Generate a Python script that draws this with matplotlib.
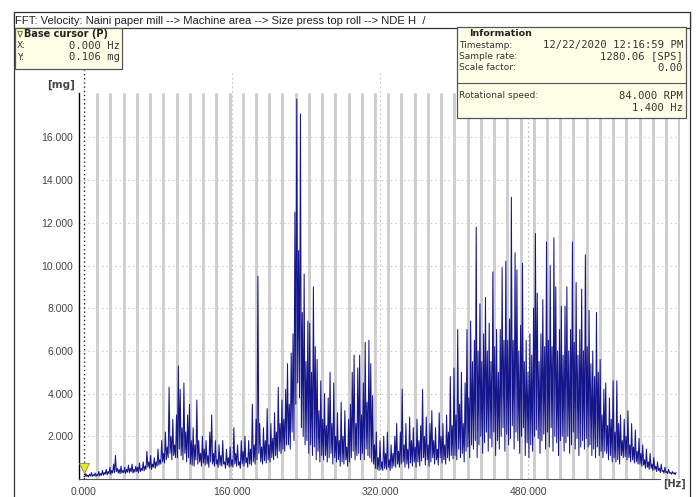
import numpy as np
import matplotlib
matplotlib.use("Agg")
import matplotlib.pyplot as plt
from matplotlib.patches import Rectangle
from matplotlib.lines import Line2D

# spectrum: upper values every 2 Hz (0 .. 640 Hz)
freq_step_hz = 2.0
amp_mg = [
    0.11, 0.25, 0.18, 0.22, 0.30, 0.20, 0.28, 0.22, 0.35, 0.25,
    0.40, 0.30, 0.45, 0.35, 0.55, 0.40, 0.70, 1.10, 0.50, 0.45,
    0.60, 0.40, 0.55, 0.45, 0.65, 0.50, 0.70, 0.45, 0.60, 0.55,
    0.75, 0.50, 0.80, 0.60, 1.30, 0.80, 1.10, 0.70, 1.00, 0.80,
    1.40, 0.90, 1.80, 1.20, 2.20, 1.50, 4.30, 2.00, 2.80, 1.60,
    3.00, 5.30, 4.20, 2.40, 4.50, 2.20, 3.00, 3.50, 1.80, 2.40,
    1.60, 3.70, 1.80, 1.20, 2.00, 1.40, 1.80, 1.10, 2.20, 3.00,
    1.20, 1.80, 0.90, 1.60, 1.10, 1.80, 0.80, 1.40, 1.00, 1.50,
    0.90, 2.40, 1.20, 1.60, 0.80, 1.80, 1.30, 2.00, 1.00, 1.80,
    1.40, 3.50, 1.60, 2.80, 9.50, 2.60, 1.50, 2.40, 1.80, 3.30,
    1.60, 2.60, 1.90, 3.10, 2.20, 4.30, 2.60, 3.70, 2.80, 4.20,
    5.40, 3.50, 5.90, 6.80, 12.50, 17.80, 10.70, 17.10, 7.80, 9.60,
    5.50, 7.40, 7.30, 5.00, 9.00, 6.20, 5.60, 3.20, 4.60, 2.80,
    4.00, 2.50, 3.80, 5.00, 2.60, 4.50, 2.00, 3.10, 1.80, 3.60,
    2.00, 3.20, 1.50, 2.80, 3.50, 5.00, 5.80, 2.60, 5.20, 5.80,
    3.00, 4.50, 6.40, 3.60, 6.50, 5.40, 3.90, 1.60, 2.20, 1.00,
    1.80, 0.80, 2.00, 1.20, 2.20, 0.90, 1.60, 1.20, 2.00, 2.60,
    1.30, 2.20, 4.20, 1.60, 2.60, 1.40, 2.90, 1.80, 2.40, 1.50,
    2.80, 1.80, 2.50, 4.20, 2.00, 2.90, 1.60, 2.60, 3.20, 1.80,
    2.40, 1.40, 3.10, 2.00, 2.60, 1.60, 3.00, 2.20, 4.80, 2.50,
    5.20, 3.00, 7.00, 3.50, 5.00, 2.60, 4.50, 7.00, 3.80, 7.40,
    5.50, 6.50, 11.80, 6.00, 8.20, 5.50, 6.80, 8.50, 6.00, 7.30,
    5.50, 9.70, 6.20, 7.00, 5.00, 7.00, 9.90, 6.50, 10.20, 6.50,
    7.50, 13.20, 6.50, 10.60, 9.80, 6.00, 7.20, 10.10, 5.50, 6.50,
    5.00, 6.80, 5.80, 8.00, 11.50, 8.70, 5.50, 6.80, 8.40, 6.20,
    11.10, 6.50, 10.00, 6.20, 11.30, 9.00, 6.00, 7.00, 8.10, 5.80,
    8.10, 9.00, 6.00, 7.00, 11.10, 6.40, 9.20, 5.80, 7.00, 8.90,
    6.00, 10.50, 6.20, 7.90, 5.40, 6.00, 4.80, 7.80, 5.00, 5.60,
    3.00, 4.20, 4.50, 2.50, 3.80, 2.80, 4.60, 2.20, 4.60, 2.60,
    3.00, 1.80, 2.80, 2.00, 3.20, 1.60, 2.60, 1.50, 2.30, 1.30,
    1.90, 1.20, 1.60, 0.90, 1.40, 0.80, 1.20, 0.70, 1.00, 0.60,
    0.80, 0.50, 0.70, 0.40, 0.55, 0.35, 0.45, 0.30, 0.35, 0.30,
    0.30,
]
# lower edge of the dense band, read at the odd Hz values (1 .. 639 Hz)
trough_mg = [
    0.10, 0.12, 0.10, 0.14, 0.12, 0.15, 0.12, 0.16, 0.14, 0.18,
    0.18, 0.22, 0.20, 0.25, 0.22, 0.28, 0.30, 0.35, 0.28, 0.25,
    0.28, 0.30, 0.26, 0.32, 0.30, 0.34, 0.28, 0.32, 0.35, 0.30,
    0.35, 0.40, 0.38, 0.45, 0.55, 0.50, 0.45, 0.55, 0.50, 0.60,
    0.65, 0.70, 0.80, 0.75, 0.90, 1.00, 1.20, 0.90, 1.10, 1.00,
    1.00, 1.40, 1.10, 0.90, 1.20, 0.80, 1.00, 0.70, 0.65, 0.60,
    0.90, 0.70, 0.80, 0.60, 0.75, 0.65, 0.70, 0.55, 0.80, 0.70,
    0.60, 0.70, 0.55, 0.65, 0.60, 0.70, 0.50, 0.65, 0.55, 0.60,
    0.55, 0.70, 0.60, 0.65, 0.50, 0.70, 0.60, 0.75, 0.55, 0.70,
    0.65, 0.80, 0.70, 0.90, 1.20, 0.80, 0.70, 0.85, 0.75, 0.90,
    0.80, 1.00, 0.90, 1.10, 1.00, 1.30, 1.20, 1.40, 1.30, 1.60,
    1.60, 1.40, 2.20, 1.80, 3.50, 4.50, 3.80, 2.40, 2.00, 1.60,
    1.80, 1.20, 1.60, 1.10, 1.50, 0.90, 1.30, 0.80, 1.10, 0.90,
    1.10, 0.80, 1.00, 1.20, 0.70, 1.00, 0.80, 0.90, 0.60, 0.80,
    0.70, 0.90, 0.60, 0.80, 1.00, 1.30, 0.90, 1.10, 1.20, 0.90,
    1.20, 0.90, 1.40, 1.10, 1.00, 0.80, 0.70, 0.50, 0.45, 0.40,
    0.45, 0.40, 0.50, 0.45, 0.55, 0.40, 0.50, 0.60, 0.55, 0.70,
    0.55, 0.70, 0.80, 0.55, 0.70, 0.50, 0.75, 0.60, 0.80, 0.55,
    0.80, 0.60, 0.85, 1.00, 0.65, 0.90, 0.60, 0.80, 1.00, 0.70,
    0.90, 0.65, 1.00, 0.75, 0.90, 0.70, 1.00, 0.85, 1.10, 0.95,
    1.10, 0.90, 1.40, 1.00, 1.20, 0.80, 1.30, 1.50, 1.00, 1.60,
    1.40, 1.80, 1.00, 1.60, 2.00, 1.20, 1.70, 2.20, 1.30, 1.90,
    1.50, 2.20, 1.10, 1.80, 1.40, 2.00, 2.40, 1.30, 2.10, 1.60,
    1.90, 2.50, 1.40, 2.20, 1.80, 1.20, 2.00, 2.40, 1.10, 1.70,
    1.00, 1.60, 1.30, 2.00, 2.30, 1.90, 1.20, 1.80, 2.10, 1.40,
    2.20, 1.50, 2.40, 1.30, 2.00, 1.70, 1.10, 1.80, 2.00, 1.30,
    1.70, 2.00, 1.20, 1.60, 2.20, 1.40, 1.90, 1.10, 1.50, 1.80,
    1.40, 1.90, 1.50, 1.60, 1.10, 1.40, 1.00, 1.50, 1.10, 1.30,
    1.00, 1.30, 1.20, 0.90, 1.10, 0.80, 1.00, 0.80, 0.90, 0.70,
    1.10, 1.00, 1.05, 0.90, 1.00, 0.80, 0.90, 0.75, 0.80, 0.70,
    0.70, 0.60, 0.65, 0.50, 0.55, 0.45, 0.50, 0.40, 0.45, 0.35,
    0.40, 0.30, 0.35, 0.28, 0.30, 0.25, 0.28, 0.22, 0.25, 0.20,
]

# harmonic cursor stripes
harmonic_hz = 14.3
n_harmonics = 45

x_ticks = [0, 160, 320, 480]
x_tick_labels = ["0.000", "160.000", "320.000", "480.000"]
y_ticks = [2, 4, 6, 8, 10, 12, 14, 16]
y_tick_labels = ["2.000", "4.000", "6.000", "8.000", "10.000", "12.000", "14.000", "16.000"]

title = "FFT: Velocity: Naini paper mill --> Machine area --> Size press top roll --> NDE H  /"
cursor_rows = [("X:", "0.000 Hz"), ("Y:", "0.106 mg")]
info_rows = [("Timestamp:", "12/22/2020 12:16:59 PM"),
             ("Sample rate:", "1280.06 [SPS]"),
             ("Scale factor:", "0.00")]
speed_rows = [("Rotational speed:", "84.000 RPM"), ("", "1.400 Hz")]

# interleave the upper values (even Hz) and the lower edge (odd Hz)
f_even = np.arange(len(amp_mg)) * freq_step_hz
f_odd = np.arange(len(trough_mg)) * freq_step_hz + freq_step_hz / 2
freq_hz = np.concatenate([np.column_stack([f_even[:-1], f_odd]).ravel(), f_even[-1:]])
spec_mg = np.concatenate([np.column_stack([amp_mg[:-1], trough_mg]).ravel(), amp_mg[-1:]])

W, H = 696, 497
fig = plt.figure(figsize=(W / 100, H / 100), dpi=100)


def px(x, y):
    return x / W, 1 - y / H


# axes: 0 Hz at x=84px, 0.925 px/Hz ; 0 mg at y=479px, 21.35 px/mg
ax = fig.add_axes([79 / W, (H - 479) / H, (680 - 79) / W, (479 - 70) / H])
ax.set_xlim(-5.4, 644.3)
ax.set_ylim(0, 19.16)
ax.patch.set_alpha(0)

for n in range(1, n_harmonics + 1):
    ax.plot([n * harmonic_hz] * 2, [0, 18.1], color="#cdcdcd", lw=2.1, zorder=1,
            solid_capstyle="butt")

for yt in y_ticks:
    ax.axhline(yt, color="#cfcfcf", lw=0.8, ls=(0, (1.5, 2.5)), zorder=1.5)
for xt in x_ticks[1:]:
    ax.axvline(xt, color="#bdbdbd", lw=0.8, ls=(0, (1.5, 2.5)), zorder=1.5)

ax.plot(freq_hz, spec_mg, color="#15158c", lw=0.75, zorder=3)

# base cursor at 0 Hz
ax.plot([0, 0], [0, 19.16], color="#222222", lw=1.0, ls=(0, (1, 2)), zorder=4,
        clip_on=False)
ax.plot([0], [0.5], marker="v", ms=7, mfc="#e6e62a", mec="#8a8a40", mew=0.6,
        zorder=5, clip_on=False)

for s in ["top", "right"]:
    ax.spines[s].set_visible(False)
ax.spines["left"].set_bounds(0, 18.1)
ax.spines["left"].set_linewidth(1.0)
ax.spines["bottom"].set_bounds(-5.4, 623)
ax.spines["bottom"].set_color("#555555")

ax.set_xticks(x_ticks)
ax.set_xticklabels(x_tick_labels)
ax.set_yticks(y_ticks)
ax.set_yticklabels(y_tick_labels)
ax.tick_params(length=0, labelsize=7.5, labelcolor="#444444")
ax.tick_params(axis="y", pad=4)
ax.tick_params(axis="x", pad=6)
for lab in ax.get_xticklabels() + ax.get_yticklabels():
    lab.set_fontfamily("Liberation Sans")

fig.text(*px(47, 85), "[mg]", fontsize=7.5, fontweight="bold", color="#444444",
         ha="left", va="center", family="DejaVu Sans")
fig.text(*px(663, 484), "[Hz]", fontsize=7, fontweight="bold", color="#444444",
         ha="left", va="center", family="DejaVu Sans")


def box(x0, y0, x1, y1, fc, ec):
    fig.patches.append(Rectangle(px(x0, y1), (x1 - x0) / W, (y1 - y0) / H,
                                 transform=fig.transFigure, fc=fc, ec=ec, lw=0.9,
                                 zorder=10))


# outer frame and title bar
fig.add_artist(Line2D([14 / W, 14 / W], [0, 1 - 12 / H], color="#333333", lw=0.9))
fig.add_artist(Line2D([690 / W, 690 / W], [0, 1 - 12 / H], color="#333333", lw=0.9))
box(14, 12, 690, 28, "white", "#333333")
fig.text(*px(15, 20.5), title, fontsize=8.1, color="#222222", ha="left", va="center",
         family="Liberation Sans", zorder=11)

val_font = dict(fontsize=7.6, color="#333333", ha="right", va="center",
                family="DejaVu Sans Mono", zorder=11)
key_font = dict(fontsize=6.5, color="#333333", ha="left", va="center",
                family="DejaVu Sans", zorder=11)

# base cursor box
box(15, 28, 122, 69, "#ffffe8", "#555555")
fig.text(*px(17, 34), "\u2207", fontsize=6.5, color="#8a8a20", ha="left", va="center",
         family="DejaVu Sans", fontweight="bold", zorder=11)
fig.text(*px(24, 34), "Base cursor (P)", fontsize=7, color="#222222", ha="left",
         va="center", family="DejaVu Sans", fontweight="bold", zorder=11)
for i, (k, v) in enumerate(cursor_rows):
    y = 46 + i * 11.5
    fig.text(*px(17, y), k, **key_font)
    fig.text(*px(120, y), v, **val_font)

# information box
box(457, 27, 686, 118, "#ffffe8", "#555555")
fig.text(*px(469, 33), "Information", fontsize=6.8, color="#222222", ha="left",
         va="center", family="DejaVu Sans", fontweight="bold", zorder=11)
for i, (k, v) in enumerate(info_rows):
    y = 45 + i * 11.5
    fig.text(*px(459, y), k, **key_font)
    fig.text(*px(683, y), v, **val_font)
fig.add_artist(Line2D([458 / W, 685 / W], [1 - 83 / H] * 2, color="#555555", lw=0.8,
                      zorder=11))
for i, (k, v) in enumerate(speed_rows):
    y = 96 + i * 12
    fig.text(*px(459, y), k, **key_font)
    fig.text(*px(683, y), v, **val_font)

fig.savefig("out.png", dpi=100)
